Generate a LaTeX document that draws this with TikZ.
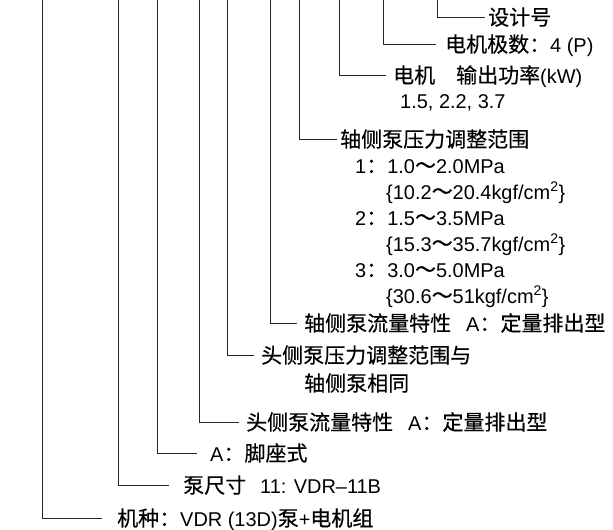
\documentclass[tikz,border=0pt]{standalone}
\usepackage{fontspec}
\setmainfont[Scale=0.95]{Liberation Sans}
\newfontfamily\cjk[FakeBold=0.4]{Noto Sans CJK SC}
\usetikzlibrary{positioning}
\newcommand{\zh}[1]{{\cjk #1}}
\tikzset{
	lbl/.style = {anchor=west, inner sep=0pt, text height=16pt, text depth=0pt, font=\fontsize{21}{25}\selectfont},
	lead/.style = {draw, line width=0.8pt, black!85}
}

\begin{document}
\begin{tikzpicture}[x=1pt,y=-1pt]
		\useasboundingbox (0,0) rectangle (613,530);
		% upper ends of the leaders
		\coordinate (c1) at (437,0);
		\coordinate (c2) at (383,0);
		\coordinate (c3) at (339,0);
		\coordinate (c4) at (299,0);
		\coordinate (c5) at (270,0);
		\coordinate (c6) at (227,0);
		\coordinate (c7) at (199,0);
		\coordinate (c8) at (157,0);
		\coordinate (c9) at (118,0);
		\coordinate (c10) at (42,0);

		\node [lbl] (dsn) at (488,17) {\zh{设计号}};
		\node [lbl] (pole) at (445,44) {\zh{电机极数：}4 (P)};
		\node [lbl] (pow) at (393,75) {\zh{电机　输出功率}(kW)};
		\node [lbl, below=25pt of pow.west, xshift=7pt, anchor=west] (powv) {1.5, 2.2, 3.7};
		\node [lbl] (prs) at (340,139) {\zh{轴侧泵压力调整范围}};
		\node [lbl, below=26pt of prs.west, xshift=15pt, anchor=west] (p1) {1\zh{：}1.0\zh{～}2.0MPa};
		\node [lbl, below=26pt of p1.west, xshift=31pt, anchor=west] (p1k) {\{10.2\zh{～}20.4kgf/cm\textsuperscript{2}\}};
		\node [lbl, below=26pt of p1k.west, xshift=-31pt, anchor=west] (p2) {2\zh{：}1.5\zh{～}3.5MPa};
		\node [lbl, below=26pt of p2.west, xshift=31pt, anchor=west] (p2k) {\{15.3\zh{～}35.7kgf/cm\textsuperscript{2}\}};
		\node [lbl, below=26pt of p2k.west, xshift=-31pt, anchor=west] (p3) {3\zh{：}3.0\zh{～}5.0MPa};
		\node [lbl, below=26pt of p3.west, xshift=31pt, anchor=west] (p3k) {\{30.6\zh{～}51kgf/cm\textsuperscript{2}\}};
		\node [lbl] (flw) at (304,323) {\zh{轴侧泵流量特性}\hspace{.75em}A\zh{：定量排出型}};
		\node [lbl] (hpr) at (261,355) {\zh{头侧泵压力调整范围与}};
		\node [lbl, below=28pt of hpr.west, xshift=43pt, anchor=west] (hpr2) {\zh{轴侧泵相同}};
		\node [lbl] (hfl) at (246,422) {\zh{头侧泵流量特性}\hspace{.75em}A\zh{：定量排出型}};
		\node [lbl] (ft) at (210,453) {A\zh{：脚座式}};
		\node [lbl] (sz) at (183,485) {\zh{泵尺寸}\hspace{.7em}11: VDR–11B};
		\node [lbl] (kind) at (117,518) {\zh{机种：}VDR (13D)\zh{泵}+\zh{电机组}};

		\draw [lead, shorten >=3pt] (c1) |- (dsn.west);
		\draw [lead, shorten >=9pt] (c2) |- (pole.west);
		\draw [lead, shorten >=7pt] (c3) |- (pow.west);
		\draw [lead, shorten >=3pt] (c4) |- (prs.west);
		\draw [lead, shorten >=7pt] (c5) |- (flw.west);
		\draw [lead, shorten >=7pt] (c6) |- (hpr.west);
		\draw [lead, shorten >=7pt] (c7) |- (hfl.west);
		\draw [lead, shorten >=13pt] (c8) |- (ft.west);
		\draw [lead, shorten >=14pt] (c9) |- (sz.west);
		\draw [lead, shorten >=15pt] (c10) |- (kind.west);
	\end{tikzpicture}
\end{document}
